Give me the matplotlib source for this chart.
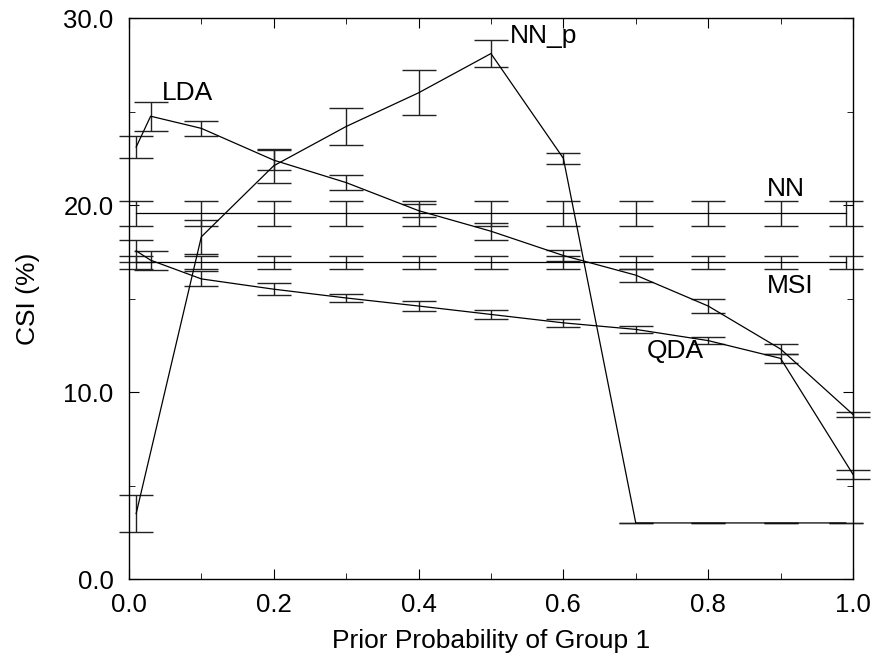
import matplotlib as mpl
mpl.use('Agg')
import matplotlib.pyplot as plt
from matplotlib.ticker import MultipleLocator, FormatStrFormatter

plt.rcParams['font.family'] = ['Liberation Sans', 'DejaVu Sans']

# prior probabilities of group 1
x_short = [0.01, 0.1, 0.2, 0.3, 0.4, 0.5, 0.6, 0.7, 0.8, 0.9, 0.99]
x_long = [0.01, 0.03, 0.1, 0.2, 0.3, 0.4, 0.5, 0.6, 0.7, 0.8, 0.9, 1.0]

# CSI (%) and error half-widths
nn = [19.55, 19.55, 19.55, 19.55, 19.55, 19.55, 19.55, 19.55, 19.55, 19.55, 19.55]
nn_err = [0.65, 0.65, 0.65, 0.65, 0.65, 0.65, 0.65, 0.65, 0.65, 0.65, 0.65]

msi = [16.95, 16.95, 16.95, 16.95, 16.95, 16.95, 16.95, 16.95, 16.95, 16.95, 16.95]
msi_err = [0.35, 0.35, 0.35, 0.35, 0.35, 0.35, 0.35, 0.35, 0.35, 0.35, 0.35]

nnp = [3.5, 18.3, 22.1, 24.2, 26.0, 28.1, 22.5, 3.0, 3.0, 3.0, 3.0]
nnp_err = [1.0, 0.9, 0.9, 1.0, 1.2, 0.7, 0.3, 0.0, 0.0, 0.0, 0.0]

lda = [23.1, 24.75, 24.1, 22.4, 21.2, 19.7, 18.6, 17.3, 16.25, 14.6, 12.3, 8.8]
lda_err = [0.6, 0.77, 0.4, 0.55, 0.4, 0.35, 0.45, 0.3, 0.35, 0.35, 0.25, 0.12]

qda = [17.55, 17.05, 16.05, 15.5, 15.03, 14.6, 14.15, 13.7, 13.35, 12.75, 11.8, 5.6]
qda_err = [0.6, 0.5, 0.4, 0.33, 0.22, 0.25, 0.25, 0.2, 0.19, 0.2, 0.25, 0.23]

fig = plt.figure(figsize=(8.77, 6.58), dpi=100)
ax = fig.add_axes([0.147, 0.12, 0.8256, 0.8526])

series = [(x_short, nn, nn_err), (x_short, msi, msi_err), (x_short, nnp, nnp_err),
          (x_long, lda, lda_err), (x_long, qda, qda_err)]
for xs, ys, es in series:
    ax.errorbar(xs, ys, yerr=es, color='black', ecolor='#222222', lw=0.9,
                elinewidth=1.0, capsize=12.2, capthick=1.0, clip_on=False)

# curve labels
ax.text(0.045, 25.6, 'LDA', fontsize=19)
ax.text(0.526, 28.68, 'NN_p', fontsize=19)
ax.text(0.8817, 20.5, 'NN', fontsize=19)
ax.text(0.881, 15.28, 'MSI', fontsize=19)
ax.text(0.715, 11.8, 'QDA', fontsize=19)

ax.set_xlim(0.0, 1.0)
ax.set_ylim(0.0, 30.0)
ax.xaxis.set_major_locator(MultipleLocator(0.2))
ax.xaxis.set_minor_locator(MultipleLocator(0.1))
ax.yaxis.set_major_locator(MultipleLocator(10))
ax.yaxis.set_minor_locator(MultipleLocator(5))
ax.xaxis.set_major_formatter(FormatStrFormatter('%.1f'))
ax.yaxis.set_major_formatter(FormatStrFormatter('%.1f'))
ax.tick_params(which='both', direction='in', top=True, right=True, labelsize=18.5)
ax.tick_params(which='major', length=7)
ax.tick_params(which='minor', length=4)
ax.tick_params(axis='x', pad=10)
ax.tick_params(axis='y', pad=11)
for sp in ax.spines.values():
    sp.set_linewidth(1.0)

ax.set_xlabel('Prior Probability of Group 1', fontsize=19, labelpad=9)
ax.set_ylabel('CSI (%)', fontsize=19, labelpad=17)

fig.savefig('out.png', dpi=100)
